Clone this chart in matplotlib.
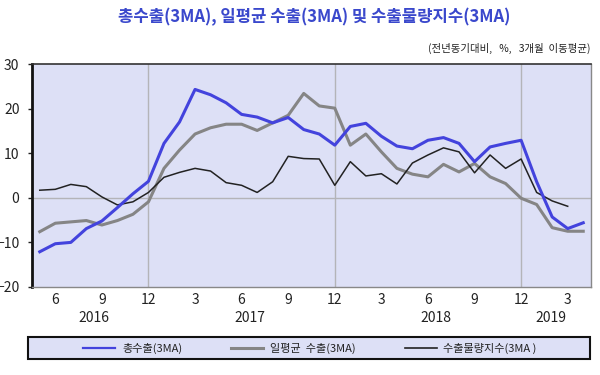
import matplotlib
matplotlib.use("Agg")
import matplotlib.pyplot as plt
from matplotlib.lines import Line2D
from matplotlib.patches import Rectangle
import numpy as np

plt.rcParams['font.family'] = ['Noto Sans CJK KR', 'DejaVu Sans']

# Months: May 2016 .. Apr 2019
months = [5, 6, 7, 8, 9, 10, 11, 12,
          1, 2, 3, 4, 5, 6, 7, 8, 9, 10, 11, 12,
          1, 2, 3, 4, 5, 6, 7, 8, 9, 10, 11, 12,
          1, 2, 3, 4]
years = [2016] * 8 + [2017] * 12 + [2018] * 12 + [2019] * 4

total_exports = [-12.1, -10.3, -10.0, -6.9, -5.2, -2.2, 0.9, 3.7, 12.2, 17.0,
                 24.3, 23.1, 21.3, 18.7, 18.1, 16.8, 18.0, 15.3, 14.3, 11.8,
                 16.0, 16.7, 13.8, 11.6, 11.0, 12.9, 13.5, 12.2, 8.1, 11.4,
                 12.2, 12.9, 3.6, -4.3, -6.9, -5.6]
daily_avg = [-7.6, -5.7, -5.4, -5.1, -6.1, -5.1, -3.7, -0.9, 6.6, 10.7,
             14.3, 15.7, 16.5, 16.5, 15.1, 16.8, 18.5, 23.4, 20.6, 20.1,
             11.8, 14.3, 10.3, 6.6, 5.3, 4.7, 7.5, 5.8, 7.7, 4.7,
             3.2, -0.1, -1.5, -6.7, -7.5, -7.5]
volume_index = [1.7, 1.9, 3.0, 2.5, 0.2, -1.6, -0.9, 1.2, 4.6, 5.7,
                6.6, 6.0, 3.4, 2.8, 1.2, 3.6, 9.3, 8.8, 8.7, 2.8,
                8.1, 4.9, 5.4, 3.1, 7.8, 9.6, 11.2, 10.3, 5.6, 9.6,
                6.6, 8.7, 1.2, -0.7, -1.9]

series_names = ['총수출(3MA)', '일평균  수출(3MA)', '수출물량지수(3MA )']
title = '총수출(3MA), 일평균 수출(3MA) 및 수출물량지수(3MA)'
subtitle = '(전년동기대비,   %,   3개월  이동평균)'

bg = '#dde0f6'
blue = '#4343dd'
gray = '#858585'
black = '#222222'

fig = plt.figure(figsize=(6, 3.75), dpi=100)
ax = fig.add_axes([32/600, 1-287/375, (591-32)/600, (287-64)/375])
ax.set_facecolor(bg)

x_all = np.arange(len(months))
ax.plot(x_all, daily_avg, color=gray, lw=2.2, zorder=3)
ax.plot(np.arange(len(volume_index)), volume_index, color=black, lw=1.1, zorder=4)
ax.plot(x_all, total_exports, color=blue, lw=2.2, zorder=5)

ax.set_xlim(-0.5, len(months) - 0.5)
ax.set_ylim(-20, 30)
ax.set_yticks([-20, -10, 0, 10, 20, 30])
ax.tick_params(axis='y', length=3, width=1, pad=6, labelsize=10, colors='#222222')

tick_idx = [i for i, m in enumerate(months) if m in (3, 6, 9, 12)]
ax.set_xticks(tick_idx)
ax.set_xticklabels([str(months[i]) for i in tick_idx])
ax.tick_params(axis='x', length=0, pad=4, labelsize=10, colors='#222222')

# grid: zero line and December lines
ax.axhline(0, color='#b4b4b8', lw=1, zorder=1)
for i, m in enumerate(months):
    if m == 12:
        ax.axvline(i, color='#b4b4b8', lw=1, zorder=1)

# year labels
year_pos = {2016: 3.5, 2017: 13.5, 2018: 25.5, 2019: 32.9}
for y, p in year_pos.items():
    ax.text(p, -0.140, str(y), transform=ax.get_xaxis_transform(),
            ha='center', va='center', fontsize=10, color='#222222')

ax.spines['left'].set_color('#111111')
ax.spines['left'].set_linewidth(2)
ax.spines['top'].set_color('#333333')
ax.spines['top'].set_linewidth(1.2)
ax.spines['right'].set_color('#888888')
ax.spines['right'].set_linewidth(1)
ax.spines['bottom'].set_color('#888888')
ax.spines['bottom'].set_linewidth(1)

fig.text(314/600, 1-17/375, title, ha='center', va='center', fontsize=12,
         fontweight='bold', color='#3a48cc')
fig.text(591/600, 1-48/375, subtitle, ha='right', va='center', fontsize=7.5,
         color='#222222')

# legend frame spanning the full width
fig.patches.append(Rectangle((28/600, 1-359/375), (590-28)/600, 22/375,
                             transform=fig.transFigure, facecolor=bg,
                             edgecolor='#111111', lw=1.5, zorder=0))
handles = [Line2D([], [], color=blue, lw=1.6),
           Line2D([], [], color=gray, lw=2.2),
           Line2D([], [], color=black, lw=1.2)]
leg = fig.legend(handles, series_names, loc='center',
                 bbox_to_anchor=(310/600, 1-348/375), ncol=3, fontsize=8,
                 frameon=False, columnspacing=4.4,
                 handlelength=2.9, handletextpad=0.6)
for t in leg.get_texts():
    t.set_color('#222222')

fig.savefig('out.png', dpi=100)
